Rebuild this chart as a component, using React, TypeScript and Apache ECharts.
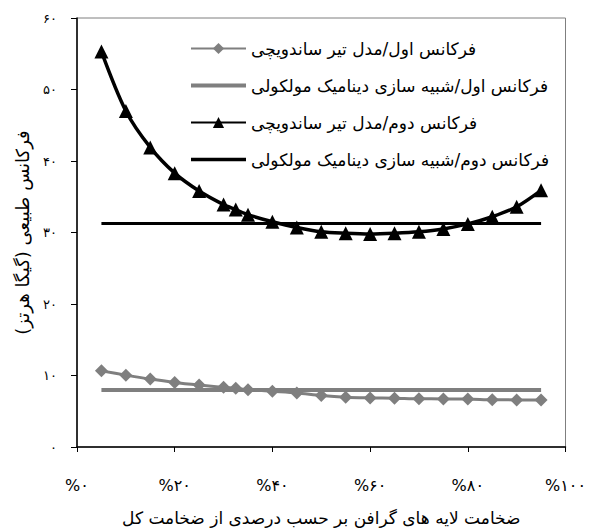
import React, { useEffect, useRef } from "react";
import * as echarts from "echarts";

// Graphene layer thickness as a percentage of total thickness
const thicknessPct = [5, 10, 15, 20, 25, 30, 32.5, 35, 40, 45, 50, 55, 60, 65, 70, 75, 80, 85, 90, 95];

// First natural frequency, sandwich beam model (GHz)
const firstSandwich = [10.65, 10.05, 9.5, 9.03, 8.66, 8.34, 8.2, 8.02, 7.79, 7.56, 7.2, 6.96, 6.87, 6.82, 6.74, 6.73, 6.72, 6.6, 6.59, 6.58];
// First natural frequency, molecular dynamics (GHz)
const firstMD = 7.97;

// Second natural frequency, sandwich beam model (GHz)
const secondSandwich = [55.3, 47.0, 41.9, 38.3, 35.8, 33.9, 33.2, 32.5, 31.5, 30.7, 30.1, 29.9, 29.8, 29.9, 30.1, 30.5, 31.2, 32.2, 33.6, 35.9];
// Second natural frequency, molecular dynamics (GHz)
const secondMD = 31.25;

const seriesNames = [
  "فرکانس اول/مدل تیر ساندویچی",
  "فرکانس اول/شبیه سازی دینامیک مولکولی",
  "فرکانس دوم/مدل تیر ساندویچی",
  "فرکانس دوم/شبیه سازی دینامیک مولکولی",
];

const xAxisTitle = "ضخامت لایه های گرافن بر حسب درصدی از ضخامت کل";
const yAxisTitle = "فرکانس طبیعی (گیگا هرتز)";

const faDigits = "۰۱۲۳۴۵۶۷۸۹";
const toFa = (n: number) => String(n).replace(/\d/g, (d) => faDigits[Number(d)]);

const GRAY = "#7f7f7f";
const BLACK = "#000000";
const FONT = "DejaVu Sans";

// Plain horizontal bar used as the legend icon of the flat reference lines
const barIcon = (thickness: number) => {
  const top = (14 - thickness) / 2;
  return `path://M0,0 M0,${top} L55,${top} L55,${top + thickness} L0,${top + thickness} Z M55,14`;
};

export default function App() {
  const ref = useRef<HTMLDivElement>(null);

  useEffect(() => {
    if (!ref.current) return;
    const chart = echarts.init(ref.current, null, { renderer: "svg" });

    const pairs = (ys: number[]) => thicknessPct.map((x, i) => [x, ys[i]]);
    const flat = (y: number) => [
      [thicknessPct[0], y],
      [thicknessPct[thicknessPct.length - 1], y],
    ];

    chart.setOption({
      animation: false,
      backgroundColor: "#ffffff",
      textStyle: { fontFamily: FONT },
      grid: {
        left: 77,
        right: 21,
        top: 18,
        bottom: 79,
        show: true,
        borderColor: GRAY,
        borderWidth: 1,
      },
      legend: {
        orient: "vertical",
        left: 185,
        top: 35,
        itemWidth: 55,
        itemHeight: 14,
        itemGap: 20,
        textStyle: { fontFamily: FONT, fontSize: 17, color: "#000" },
        data: [
          { name: seriesNames[0] },
          { name: seriesNames[1], icon: barIcon(4), itemStyle: { color: GRAY, borderWidth: 0 } },
          { name: seriesNames[2] },
          { name: seriesNames[3], icon: barIcon(3.5), itemStyle: { color: BLACK, borderWidth: 0 } },
        ],
      },
      xAxis: {
        type: "value",
        min: 0,
        max: 100,
        interval: 20,
        name: xAxisTitle,
        nameLocation: "middle",
        nameGap: 62,
        nameTextStyle: { fontFamily: FONT, fontSize: 17, color: "#000" },
        axisLine: { lineStyle: { color: BLACK, width: 1.5 } },
        axisTick: { length: 5, lineStyle: { color: BLACK } },
        axisLabel: {
          margin: 30,
          fontSize: 16,
          color: "#000",
          fontFamily: FONT,
          formatter: (v: number) => "%" + toFa(v),
        },
        splitLine: { show: false },
      },
      yAxis: {
        type: "value",
        min: 0,
        max: 60,
        interval: 10,
        name: yAxisTitle,
        nameLocation: "middle",
        nameRotate: 90,
        nameGap: 46,
        nameTextStyle: { fontFamily: FONT, fontSize: 18, color: "#000" },
        axisLine: { show: true, lineStyle: { color: BLACK, width: 1.5 } },
        axisTick: { show: true, length: 6, lineStyle: { color: BLACK } },
        axisLabel: {
          margin: 20,
          fontSize: 13,
          color: "#000",
          fontFamily: FONT,
          formatter: (v: number) => toFa(v),
        },
        splitLine: { show: false },
      },
      series: [
        {
          name: seriesNames[1],
          type: "line",
          data: flat(firstMD),
          symbol: "none",
          lineStyle: { color: GRAY, width: 4 },
          itemStyle: { color: GRAY },
          z: 2,
        },
        {
          name: seriesNames[0],
          type: "line",
          data: pairs(firstSandwich),
          smooth: 0.3,
          symbol: "diamond",
          symbolSize: 13,
          lineStyle: { color: GRAY, width: 3 },
          itemStyle: { color: GRAY },
          z: 3,
        },
        {
          name: seriesNames[3],
          type: "line",
          data: flat(secondMD),
          symbol: "none",
          lineStyle: { color: BLACK, width: 3 },
          itemStyle: { color: BLACK },
          z: 2,
        },
        {
          name: seriesNames[2],
          type: "line",
          data: pairs(secondSandwich),
          smooth: 0.3,
          symbol: "triangle",
          symbolSize: 14,
          lineStyle: { color: BLACK, width: 3.5 },
          itemStyle: { color: BLACK },
          z: 3,
        },
      ],
    });

    return () => chart.dispose();
  }, []);

  return (
    <div
      ref={ref}
      style={{ position: "fixed", left: 0, top: 0, width: 589, height: 531, background: "#fff" }}
    />
  );
}
